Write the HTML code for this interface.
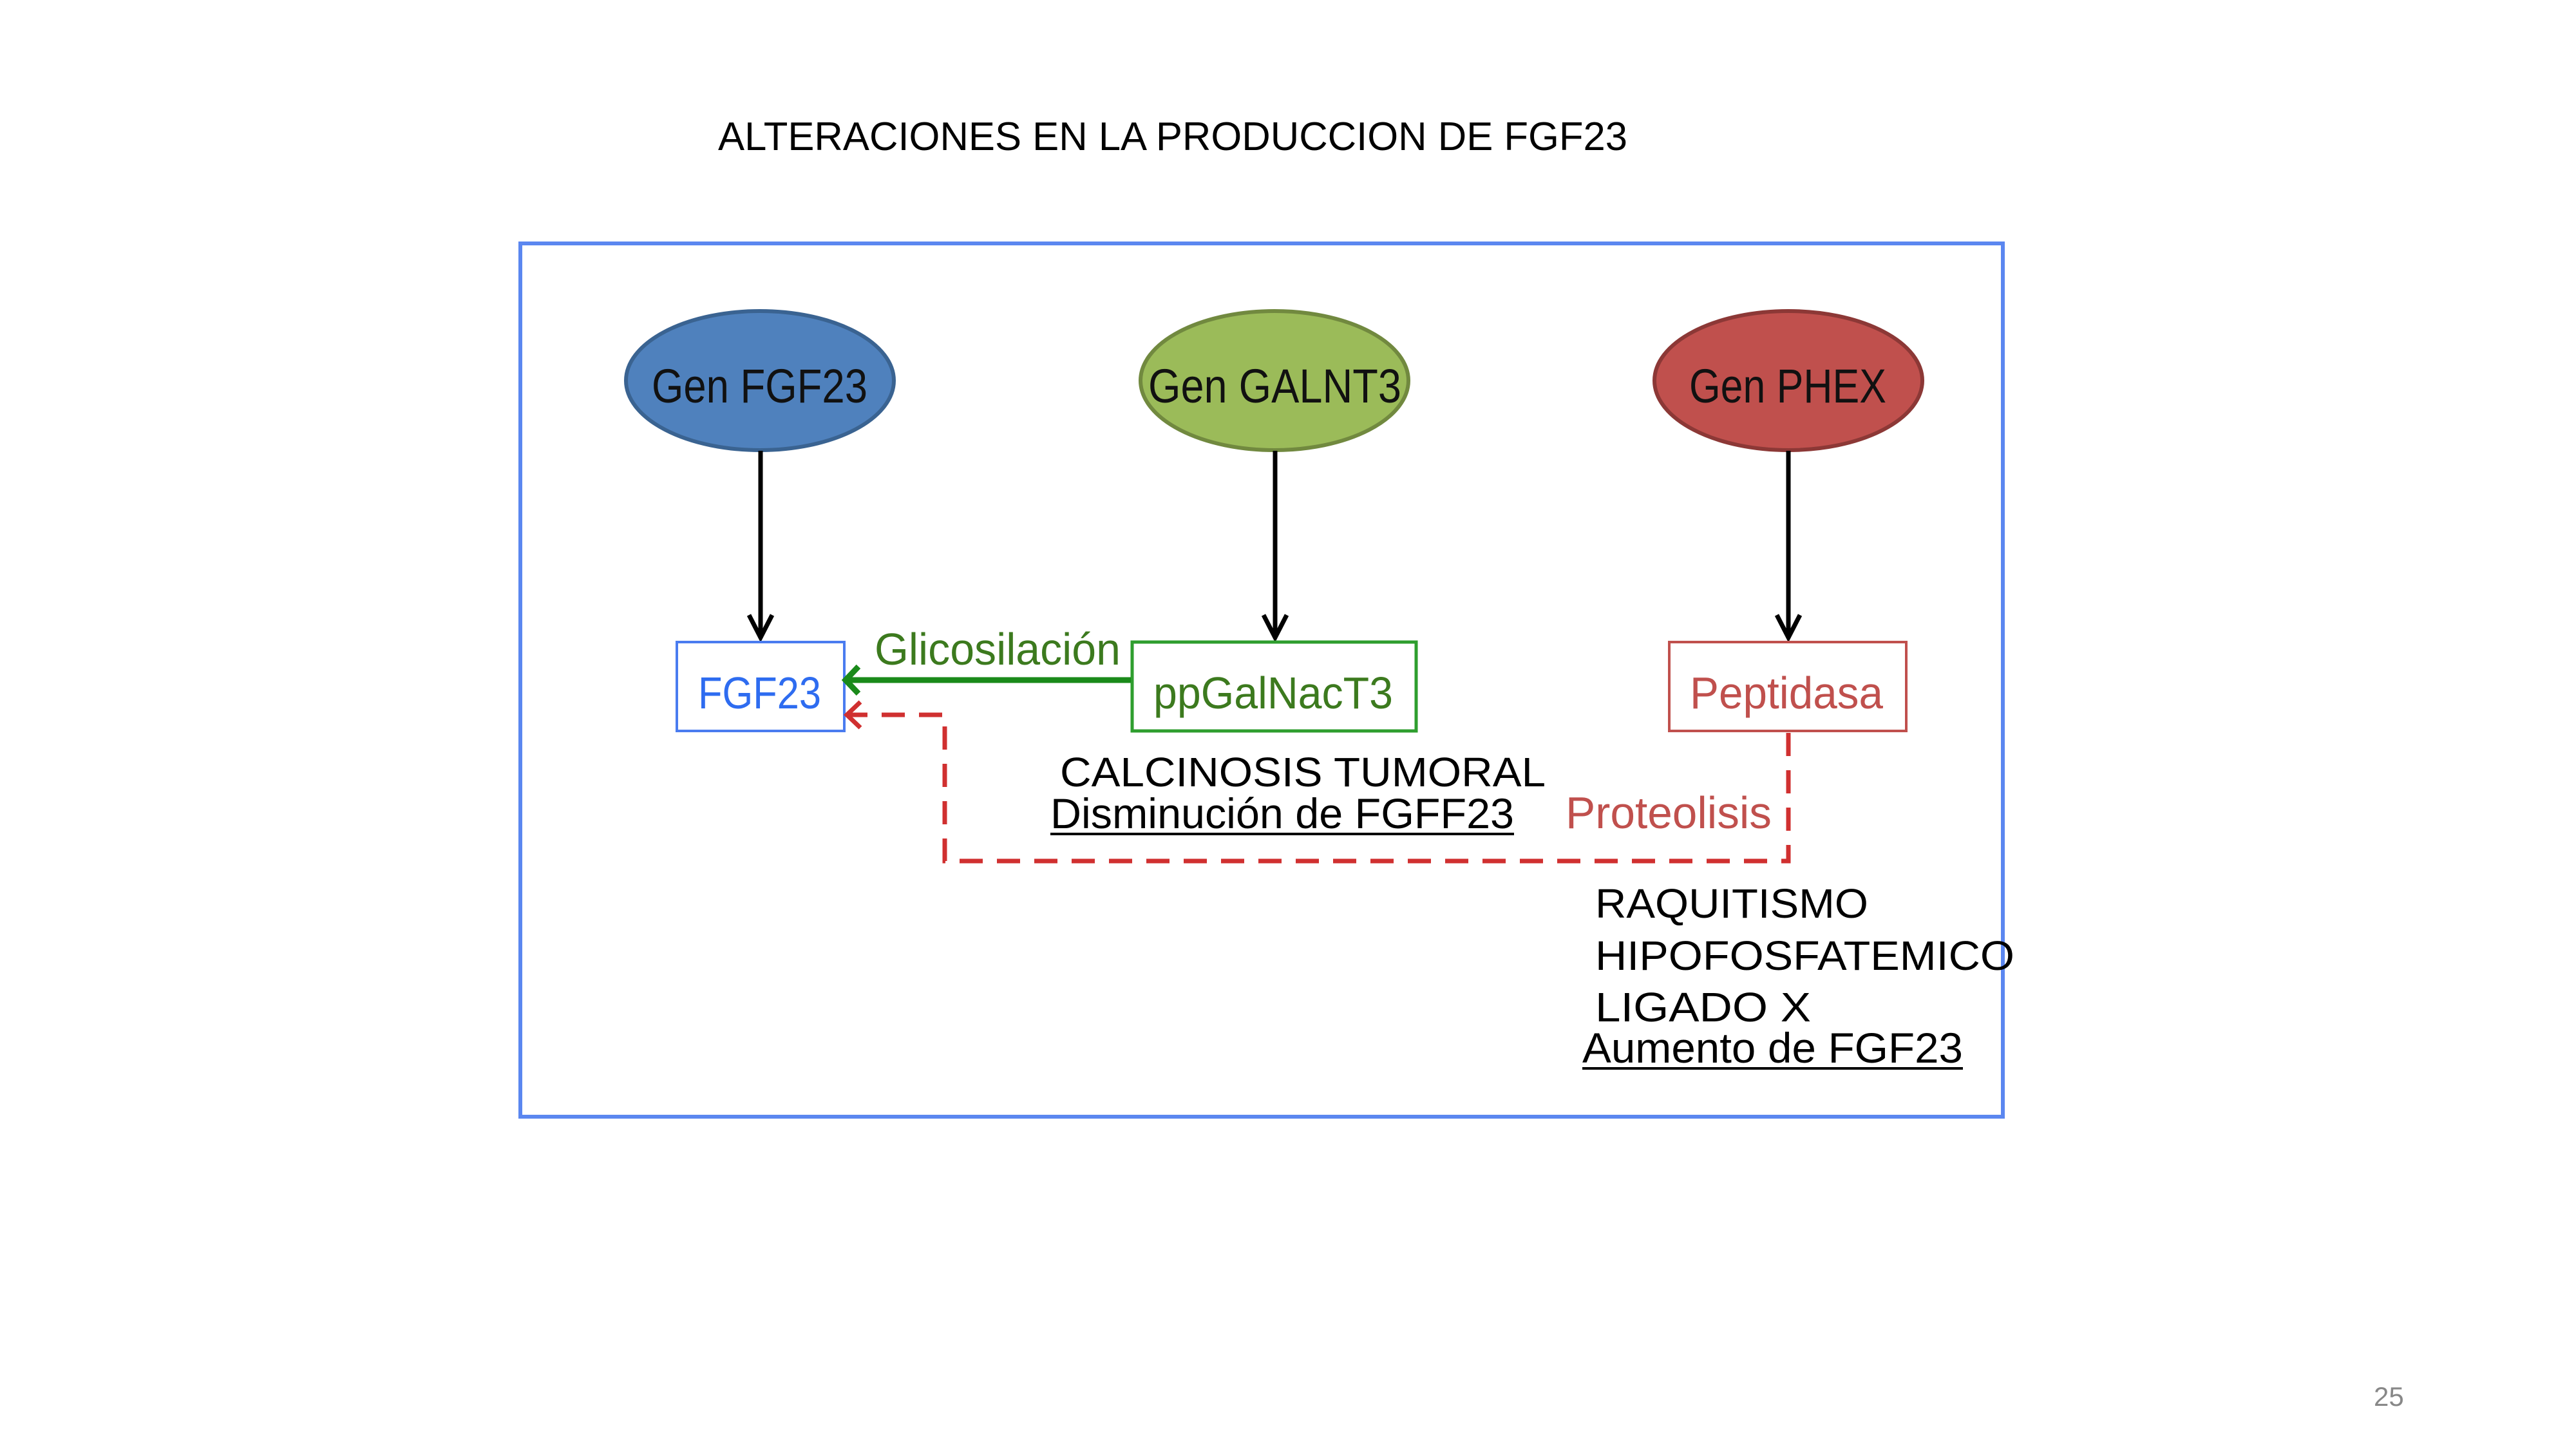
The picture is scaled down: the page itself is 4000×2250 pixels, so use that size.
<!DOCTYPE html>
<html><head><meta charset="utf-8"><style>
html,body{margin:0;padding:0;background:#fff;}
svg{display:block}
text{font-family:"Liberation Sans",sans-serif;}
</style></head><body>
<svg width="4000" height="2250" viewBox="0 0 4000 2250" xmlns="http://www.w3.org/2000/svg">
<defs>
<marker id="ab" viewBox="0 0 10 10" refX="9" refY="5" markerWidth="6" markerHeight="6" orient="auto" markerUnits="userSpaceOnUse" style="overflow:visible">
</marker>
</defs>
<text x="1115" y="233" font-size="62" fill="#000" textLength="1412" lengthAdjust="spacingAndGlyphs">ALTERACIONES EN LA PRODUCCION DE FGF23</text>
<rect x="808" y="378" width="2302" height="1356" fill="none" stroke="#5b87f0" stroke-width="6"/>

<ellipse cx="1180" cy="591" rx="208" ry="108" fill="#4f81bd" stroke="#3a6391" stroke-width="6"/>
<ellipse cx="1979" cy="591" rx="208" ry="108" fill="#9bbb59" stroke="#71893f" stroke-width="6"/>
<ellipse cx="2777" cy="591" rx="208" ry="108" fill="#c0504d" stroke="#8c3836" stroke-width="6"/>
<text x="1012" y="625" font-size="74" fill="#111" textLength="335" lengthAdjust="spacingAndGlyphs">Gen FGF23</text>
<text x="1783" y="625" font-size="74" fill="#111" textLength="393" lengthAdjust="spacingAndGlyphs">Gen GALNT3</text>
<text x="2623" y="625" font-size="74" fill="#111" textLength="306" lengthAdjust="spacingAndGlyphs">Gen PHEX</text>

<g stroke="#000" stroke-width="7" fill="none">
<line x1="1181" y1="700" x2="1181" y2="990"/>
<polyline points="1163,955 1181,990 1199,955"/>
<line x1="1980" y1="700" x2="1980" y2="990"/>
<polyline points="1962,955 1980,990 1998,955"/>
<line x1="2777" y1="700" x2="2777" y2="990"/>
<polyline points="2759,955 2777,990 2795,955"/>
</g>

<rect x="1051" y="997" width="260" height="138" fill="#fff" stroke="#4a7cf0" stroke-width="4"/>
<rect x="1758" y="997" width="441" height="138" fill="#fff" stroke="#2e9e2e" stroke-width="5"/>
<rect x="2592" y="997" width="368" height="138" fill="#fff" stroke="#c0504d" stroke-width="4"/>
<text x="1084" y="1100" font-size="70" fill="#2e6cf0" textLength="191" lengthAdjust="spacingAndGlyphs">FGF23</text>
<text x="1791" y="1100" font-size="70" fill="#3c7a1e" textLength="372" lengthAdjust="spacingAndGlyphs">ppGalNacT3</text>
<text x="2624" y="1100" font-size="70" fill="#c0504d" textLength="300" lengthAdjust="spacingAndGlyphs">Peptidasa</text>

<text x="1358" y="1032" font-size="70" fill="#3c7a1e" textLength="382" lengthAdjust="spacingAndGlyphs">Glicosilación</text>
<g stroke="#1a8a1a" stroke-width="9" fill="none">
<line x1="1756" y1="1056" x2="1318" y2="1056"/>
<polyline points="1333,1035 1313,1056 1333,1077"/>
</g>

<g stroke="#d03030" stroke-width="7" fill="none" stroke-dasharray="36,22">
<polyline points="2777,1138 2777,1337 1467,1337 1467,1110 1320,1110"/>
</g>
<polyline points="1336,1090 1315,1110 1336,1130" stroke="#d03030" stroke-width="7" fill="none"/>

<text x="1646" y="1221" font-size="64" fill="#000" textLength="754" lengthAdjust="spacingAndGlyphs">CALCINOSIS TUMORAL</text>
<text x="1631" y="1286" font-size="66" fill="#000" textLength="720" lengthAdjust="spacingAndGlyphs">Disminución de FGFF23</text>
<line x1="1631" y1="1295" x2="2351" y2="1295" stroke="#000" stroke-width="4"/>
<text x="2431" y="1286" font-size="70" fill="#c0504d" textLength="320" lengthAdjust="spacingAndGlyphs">Proteolisis</text>

<text x="2477" y="1425" font-size="64" fill="#000" textLength="424" lengthAdjust="spacingAndGlyphs">RAQUITISMO</text>
<text x="2477" y="1506" font-size="64" fill="#000" textLength="651" lengthAdjust="spacingAndGlyphs">HIPOFOSFATEMICO</text>
<text x="2477" y="1586" font-size="64" fill="#000" textLength="335" lengthAdjust="spacingAndGlyphs">LIGADO  X</text>
<text x="2457" y="1650" font-size="66" fill="#000" textLength="591" lengthAdjust="spacingAndGlyphs">Aumento de FGF23</text>
<line x1="2457" y1="1659" x2="3048" y2="1659" stroke="#000" stroke-width="4"/>

<text x="3686" y="2183" font-size="42" fill="#888">25</text>
</svg>
</body></html>
